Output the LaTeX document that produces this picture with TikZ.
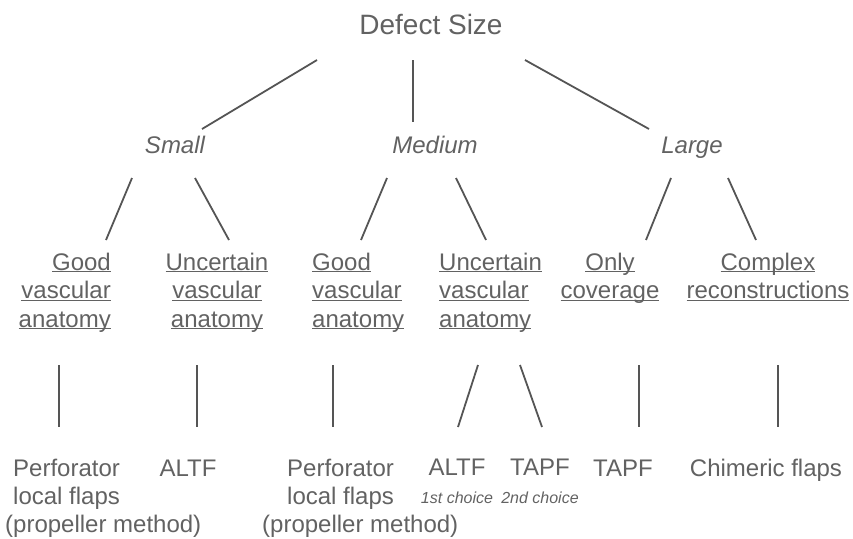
\documentclass[tikz,border=0pt]{standalone}
\usepackage{fontspec}
\setmainfont{Liberation Sans}
\usetikzlibrary{positioning}

\definecolor{textgray}{HTML}{626262}
\definecolor{linegray}{HTML}{555555}
\newcommand{\uw}[1]{\underline{\smash{#1}}}

\begin{document}
\begin{tikzpicture}[x=1pt, y=-1pt,
  txt/.style={text=textgray, inner sep=0pt, font=\fontsize{24}{28.5}\selectfont},
  sizelabel/.style={txt, font=\fontsize{24}{28.5}\selectfont\itshape},
  flap/.style={txt, font=\fontsize{24}{28}\selectfont},
  branch/.style={draw=linegray, line width=1.8pt}]
  \useasboundingbox (0,0) rectangle (853,538);

  % root and defect sizes
  \node [txt, font=\fontsize{28}{32}\selectfont, anchor=base] (defect) at (431,34) {Defect Size};
  \node [sizelabel, anchor=base] (small) at (175,153) {Small};
  \node [sizelabel, anchor=base] (medium) at (435,153) {Medium};
  \node [sizelabel, anchor=base] (large) at (692,153) {Large};

  % vascular anatomy / aim (base = last line)
  \node [txt, align=right, anchor=base east] (goodA) at (111,327) {\uw{Good}\\\uw{vascular}\\\uw{anatomy}};
  \node [txt, align=center, anchor=base] (uncA) at (217,327) {\uw{Uncertain}\\\uw{vascular}\\\uw{anatomy}};
  \node [txt, align=left, anchor=base west] (goodB) at (312,327) {\uw{Good}\\\uw{vascular}\\\uw{anatomy}};
  \node [txt, align=left, anchor=base west] (uncB) at (439,327) {\uw{Uncertain}\\\uw{vascular}\\\uw{anatomy}};
  \node [txt, align=center, anchor=base] (only) at (610,298.5) {\uw{Only}\\\uw{coverage}};
  \node [txt, align=center, anchor=base] (complex) at (768,298.5) {\uw{Complex}\\\uw{reconstructions}};

  % flaps
  \node [flap, align=left, anchor=base west] (perfA) at (13,532) {Perforator\\local flaps\\\hspace*{-8pt}(propeller method)};
  \node [flap, anchor=base] (altfA) at (188,476) {ALTF};
  \node [flap, align=left, anchor=base west] (perfB) at (287,532) {Perforator\\local flaps\\\hspace*{-25pt}(propeller method)};
  \node [flap, align=center, anchor=base] (altfB) at (457,503) {ALTF\\{\fontsize{16}{27}\selectfont\itshape 1st choice}};
  \node [flap, align=center, anchor=base] (tapfA) at (540,503) {TAPF\\{\fontsize{16}{27}\selectfont\itshape 2nd choice}};
  \node [flap, anchor=base] (tapfB) at (623,476) {TAPF};
  \node [flap, anchor=base] (chim) at (766,476) {Chimeric flaps};

  \draw [branch] ([shift={(-114,26)}]defect.base) -- ([shift={(27,-24)}]small.base);
  \draw [branch] ([shift={(-18,26)}]defect.base) -- ([shift={(-22,-31)}]medium.base);
  \draw [branch] ([shift={(94,26)}]defect.base) -- ([shift={(-43,-24)}]large.base);

  \draw [branch] ([shift={(-43,25)}]small.base) -- ([shift={(-5,-87)}]goodA.base east);
  \draw [branch] ([shift={(20,25)}]small.base) -- ([shift={(12,-87)}]uncA.base);
  \draw [branch] ([shift={(-48,25)}]medium.base) -- ([shift={(49,-87)}]goodB.base west);
  \draw [branch] ([shift={(21,25)}]medium.base) -- ([shift={(47,-87)}]uncB.base west);
  \draw [branch] ([shift={(-21,25)}]large.base) -- ([shift={(36,-58.5)}]only.base);
  \draw [branch] ([shift={(36,25)}]large.base) -- ([shift={(-12,-58.5)}]complex.base);

  \draw [branch] ([shift={(-52,38)}]goodA.base east) -- ([shift={(46,-105)}]perfA.base west);
  \draw [branch] ([shift={(-20,38)}]uncA.base) -- ([shift={(9,-49)}]altfA.base);
  \draw [branch] ([shift={(21,38)}]goodB.base west) -- ([shift={(46,-105)}]perfB.base west);
  \draw [branch] ([shift={(39,38)}]uncB.base west) -- ([shift={(1,-76)}]altfB.base);
  \draw [branch] ([shift={(81,38)}]uncB.base west) -- ([shift={(2,-76)}]tapfA.base);
  \draw [branch] ([shift={(29,66.5)}]only.base) -- ([shift={(16,-49)}]tapfB.base);
  \draw [branch] ([shift={(10,66.5)}]complex.base) -- ([shift={(12,-49)}]chim.base);
\end{tikzpicture}
\end{document}
